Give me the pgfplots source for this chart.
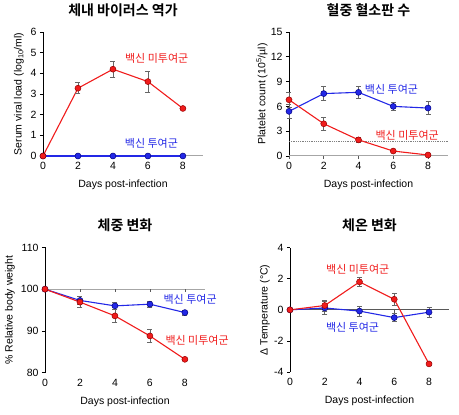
\documentclass[border=0pt]{standalone}
\usepackage{pgfplots}
\pgfplotsset{compat=1.18}
\usepackage{fontspec}
\setmainfont{Liberation Sans}
\newfontfamily\kr{Noto Sans CJK KR}[BoldFont={Noto Sans CJK KR Bold}]
\definecolor{cred}{RGB}{240,28,28}
\definecolor{cblue}{RGB}{35,40,230}
\definecolor{dred}{RGB}{150,0,0}
\definecolor{dblue}{RGB}{0,0,130}
\pgfplotsset{
  panel/.style={
    scale only axis, clip=false,
    anchor=south west,
    axis x line=bottom, axis y line=left,
    axis line style={-, black, line width=0.7pt},
    x axis line style={draw=none},
    xtick style={draw=none},
    ytick style={black, line width=0.7pt},
    tick align=outside, major tick length=3pt,
    xmin=0, xmax=9.15, xtick={0,2,4,6,8},
    tick label style={font=\fontsize{10.5}{12}\selectfont},
    /pgf/number format/assume math mode=true,
    label style={font=\fontsize{10.5}{12}\selectfont},
    xlabel={Days post-infection},
    xlabel style={at={(axis description cs:0.5,0)}, anchor=center, yshift=-29pt},
    title style={font=\kr\bfseries\fontsize{14}{16}\selectfont, at={(axis description cs:0.5,1)}, anchor=center, yshift=16pt},
  },
  redser/.style={cred, line width=1.1pt, mark=*, mark size=3pt, mark options={fill=cred, draw=dred, line width=0.5pt},
    error bars/.cd, y dir=both, y explicit, error bar style={gray!80!black, line width=0.6pt}, error mark options={rotate=90, mark size=2.5pt, gray!80!black, line width=0.6pt}},
  blueser/.style={cblue, line width=1.1pt, mark=*, mark size=3pt, mark options={fill=cblue, draw=dblue, line width=0.5pt},
    error bars/.cd, y dir=both, y explicit, error bar style={gray!80!black, line width=0.6pt}, error mark options={rotate=90, mark size=2.5pt, gray!80!black, line width=0.6pt}},
}
\newcommand{\lbl}{\kr\fontsize{11}{13}\selectfont}
\begin{document}
\begin{tikzpicture}
\useasboundingbox (0pt,0pt) rectangle (459pt,415pt);
% Top-left
\begin{axis}[panel, at={(43pt,259pt)}, width=160pt, height=124pt,
  ymin=0, ymax=6, ytick={0,1,...,6},
  ylabel={Serum viral load (log\textsubscript{10}/ml)},
  ylabel style={at={(axis description cs:0,0.5)}, anchor=center, yshift=24pt},
  title={체내 바이러스 역가}]
\draw[gray!70, line width=1pt] (axis cs:0,0) -- (axis cs:9.15,0);
\pgfplotsinvokeforeach{0,2,4,6,8}{\draw[gray!70!black, line width=0.7pt] (axis cs:#1,0) -- ++(0pt,-3pt);}
\addplot[blueser] table[x=x, y=y, y error=e] {
x y e
0 0 0
2 0 0
4 0 0
6 0 0
8 0 0
};
\addplot[redser] table[x=x, y=y, y error=e] {
x y e
0 0 0
2 3.28 0.27
4 4.20 0.40
6 3.60 0.50
8 2.30 0.06
};
\node[text=cred, font=\lbl] at (axis cs:6.5,4.7) {백신 미투여군};
\node[text=cblue, font=\lbl] at (axis cs:6.2,0.63) {백신 투여군};
\end{axis}
% Top-right
\begin{axis}[panel, at={(289pt,259pt)}, width=159pt, height=124pt,
  ymin=0, ymax=15, ytick={0,3,...,15},
  ylabel={Platelet count (10\textsuperscript{5}/µl)},
  ylabel style={at={(axis description cs:0,0.5)}, anchor=center, yshift=27pt},
  title={혈중 혈소판 수}]
\draw[gray!70, line width=1pt] (axis cs:0,0) -- (axis cs:9.15,0);
\draw[gray, densely dotted, line width=0.8pt] (axis cs:0,1.75) -- (axis cs:9.15,1.75);
\pgfplotsinvokeforeach{0,2,4,6,8}{\draw[gray!70!black, line width=0.7pt] (axis cs:#1,0) -- ++(0pt,-3pt);}
\addplot[blueser] table[x=x, y=y, y error=e] {
x y e
0 5.40 0.90
2 7.55 0.85
4 7.70 0.75
6 6.00 0.50
8 5.80 0.80
};
\addplot[redser] table[x=x, y=y, y error=e] {
x y e
0 6.80 0.85
2 3.90 0.75
4 1.95 0.30
6 0.60 0.10
8 0.12 0.10
};
\node[text=cblue, font=\lbl] at (axis cs:5.9,8.1) {백신 투여군};
\node[text=cred, font=\lbl] at (axis cs:6.8,2.55) {백신 미투여군};
\end{axis}
% Bottom-left
\begin{axis}[panel, at={(45pt,42.3pt)}, width=160pt, height=125.3pt,
  ymin=80, ymax=110, ytick={80,90,100,110},
  ylabel={\% Relative body weight},
  ylabel style={at={(axis description cs:0,0.5)}, anchor=center, yshift=35pt},
  title={체중 변화}]
\draw[gray!70, line width=1pt] (axis cs:0,100) -- (axis cs:9.15,100);
\pgfplotsinvokeforeach{0,2,4,6,8}{\draw[gray!70!black, line width=0.7pt] (axis cs:#1,100) -- ++(0pt,-3pt);}
\addplot[blueser] table[x=x, y=y, y error=e] {
x y e
0 100 0
2 97.3 0.9
4 96.0 0.8
6 96.4 0.8
8 94.4 0.6
};
\addplot[redser] table[x=x, y=y, y error=e] {
x y e
0 100 0
2 96.9 1.3
4 93.6 1.6
6 88.8 1.6
8 83.2 0.3
};
\node[text=cblue, font=\lbl] at (axis cs:8.3,97.6) {백신 투여군};
\node[text=cred, font=\lbl] at (axis cs:8.7,87.8) {백신 미투여군};
\end{axis}
% Bottom-right
\begin{axis}[panel, at={(290pt,43pt)}, width=159pt, height=124.3pt,
  ymin=-4, ymax=4, ytick={-4,-2,0,2,4},
  ylabel={Δ Temperature (°C)},
  ylabel style={at={(axis description cs:0,0.5)}, anchor=center, yshift=25pt},
  title={체온 변화}]
\draw[gray!70!black, line width=0.8pt] (axis cs:0,0) -- (axis cs:9.15,0);
\pgfplotsinvokeforeach{0,2,4,6,8}{\draw[gray!70!black, line width=0.7pt] (axis cs:#1,0) -- ++(0pt,-3pt);}
\addplot[blueser] table[x=x, y=y, y error=e] {
x y e
0 0 0
2 0.12 0.40
4 -0.08 0.32
6 -0.50 0.26
8 -0.15 0.32
};
\addplot[redser] table[x=x, y=y, y error=e] {
x y e
0 0 0.05
2 0.28 0.35
4 1.80 0.28
6 0.68 0.40
8 -3.48 0.10
};
\node[text=cred, font=\lbl] at (axis cs:3.9,2.6) {백신 미투여군};
\node[text=cblue, font=\lbl] at (axis cs:3.6,-1.15) {백신 투여군};
\end{axis}
\end{tikzpicture}
\end{document}
